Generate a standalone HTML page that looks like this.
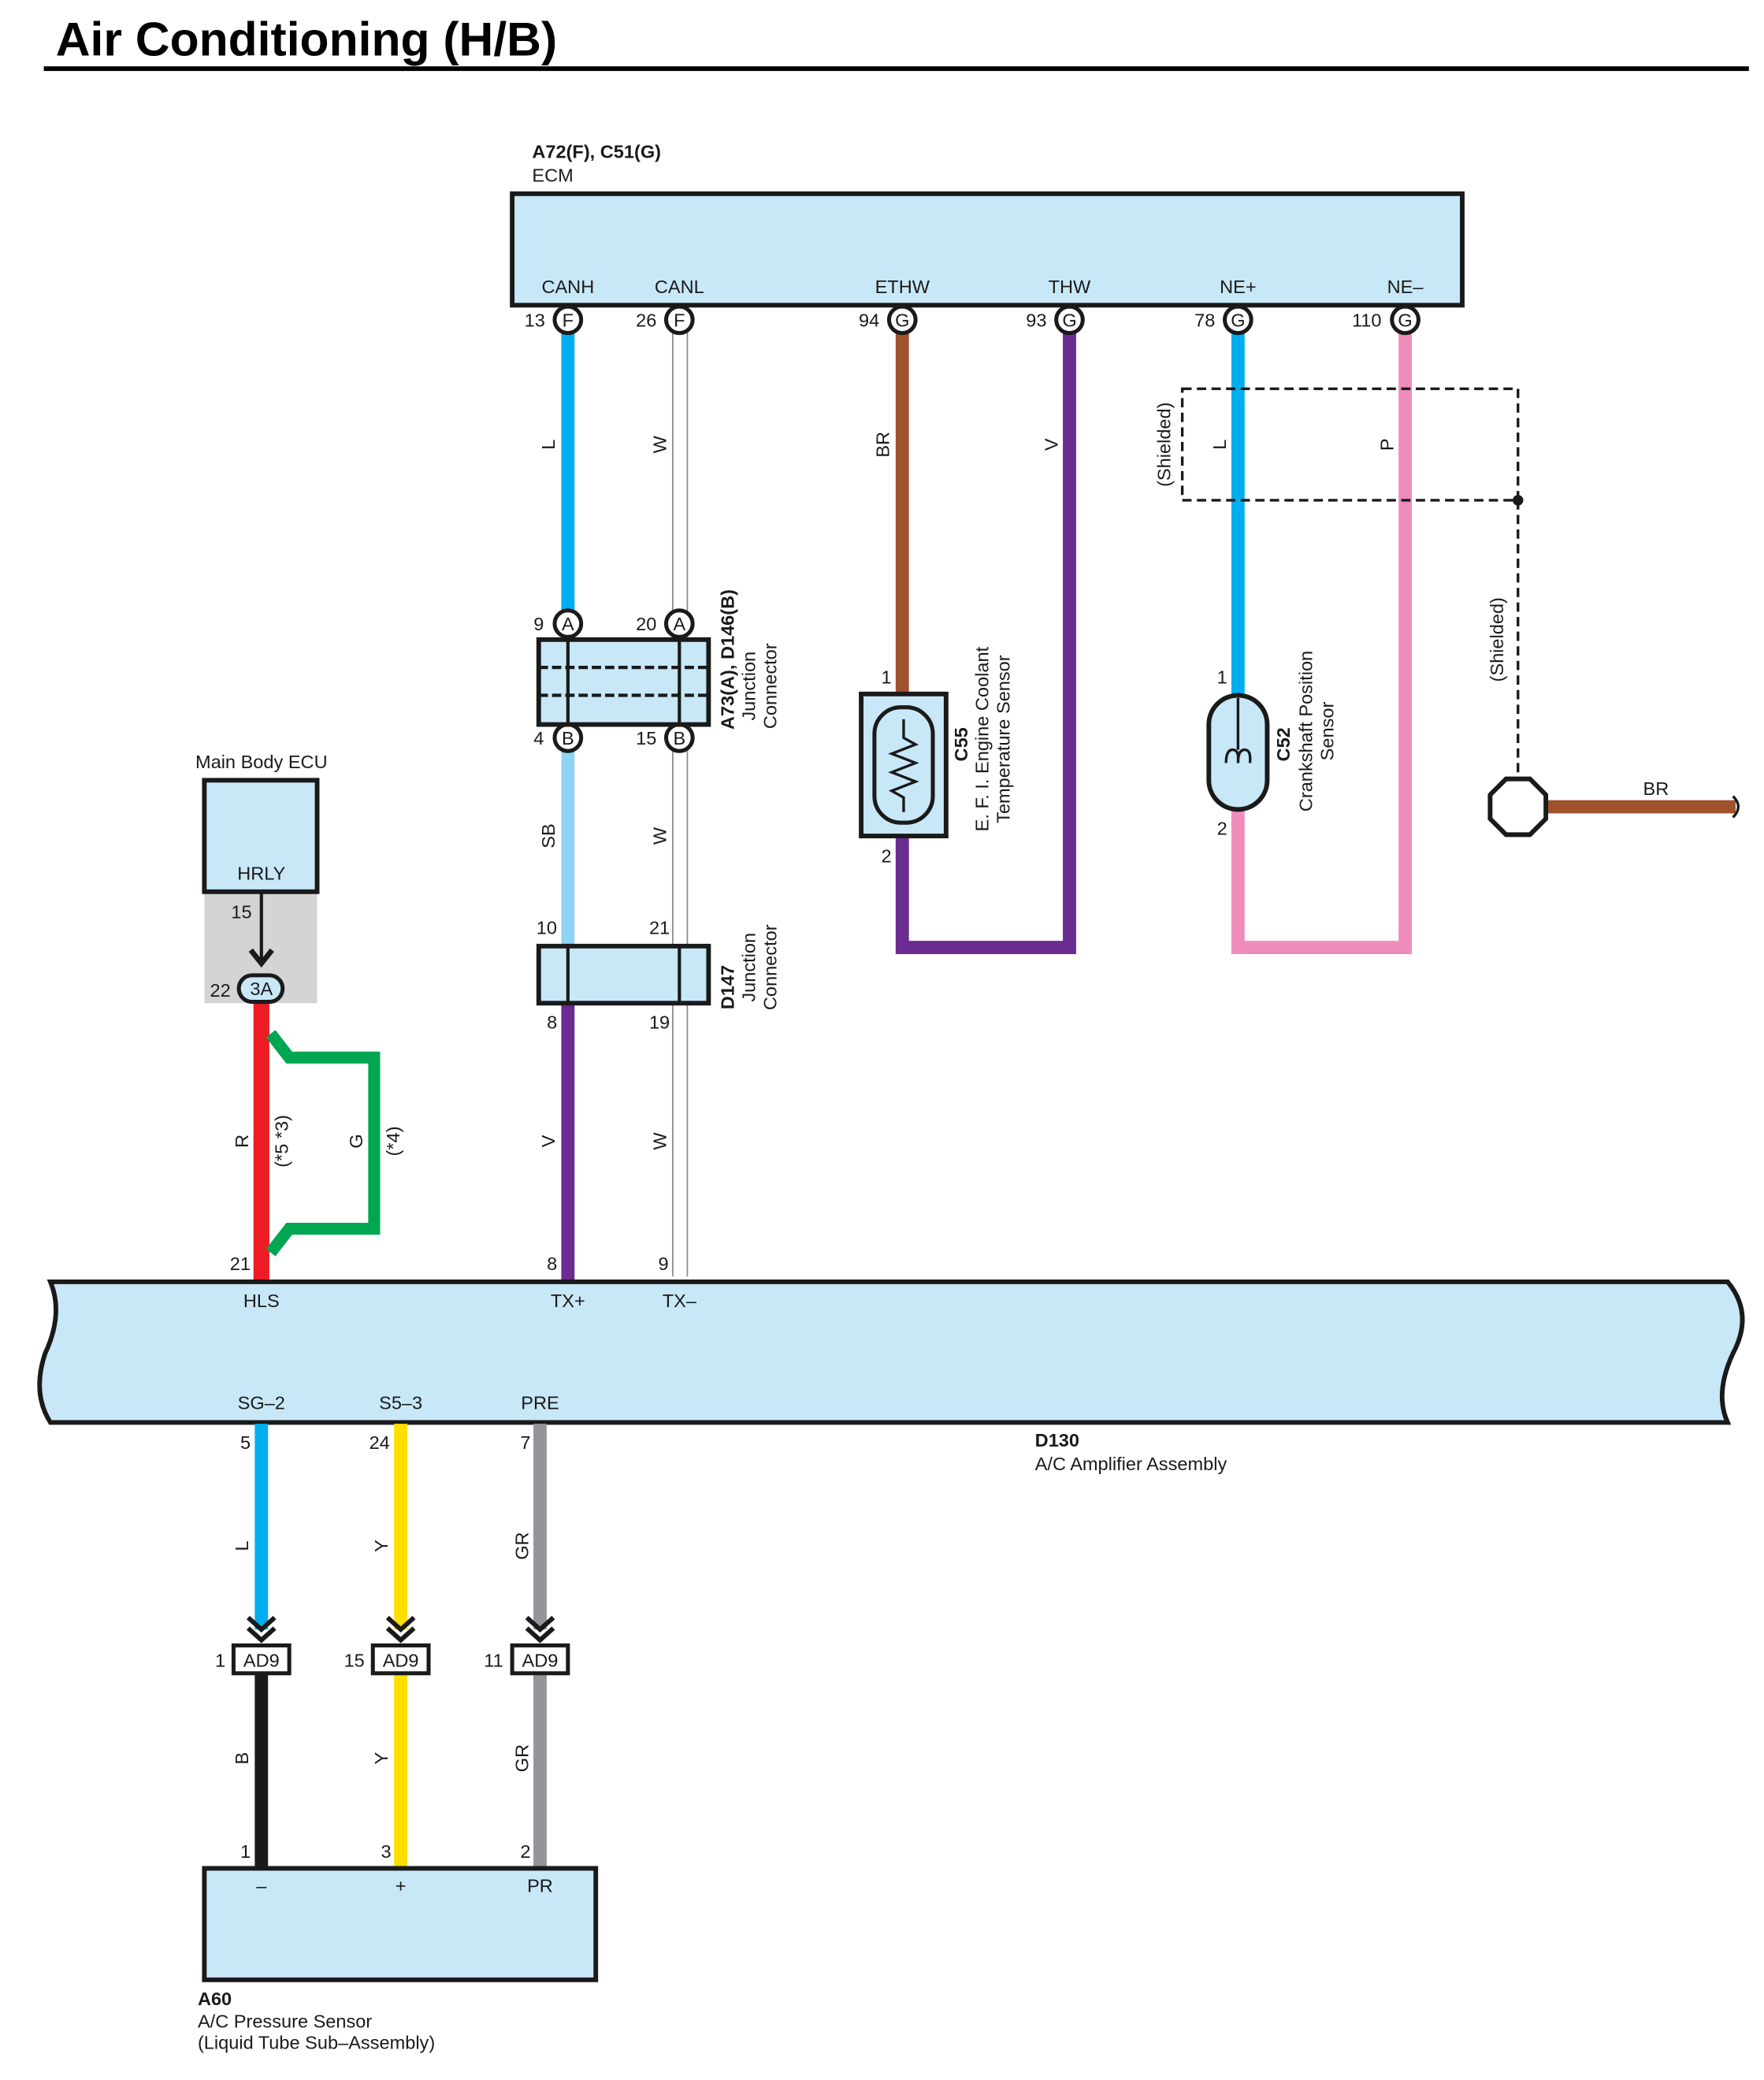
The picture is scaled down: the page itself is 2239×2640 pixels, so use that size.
<!DOCTYPE html>
<html><head><meta charset="utf-8"><style>
html,body{margin:0;padding:0;background:#fff}
svg{display:block}
text{font-family:"Liberation Sans",sans-serif;font-size:14px;fill:#1a1a1a}
.b{font-weight:bold}
.c{text-anchor:middle}
</style></head><body>
<svg width="2239" height="2640" viewBox="0 0 1329.4 1567.5" preserveAspectRatio="none" xmlns="http://www.w3.org/2000/svg">
<text x="42" y="42" class="b" style="font-size:36px;fill:#000">Air Conditioning (H/B)</text>
<rect x="33" y="50" width="1285" height="3.5" fill="#000"/>

<text x="401" y="119" class="b">A72(F), C51(G)</text>
<text x="401" y="137">ECM</text>
<rect x="386" y="146" width="716" height="84" fill="#c8e8f8" stroke="#1a1a1a" stroke-width="3.5"/>
<text x="428" y="221" class="c">CANH</text><text x="512" y="221" class="c">CANL</text>
<text x="680" y="221" class="c">ETHW</text><text x="806" y="221" class="c">THW</text>
<text x="933" y="221" class="c">NE+</text><text x="1059" y="221" class="c">NE–</text>

<line x1="428" y1="250" x2="428" y2="462" stroke="#00aeef" stroke-width="10"/>
<g stroke="#888" stroke-width="1"><line x1="507" y1="250" x2="507" y2="962"/><line x1="518" y1="250" x2="518" y2="962"/></g>
<line x1="680" y1="250" x2="680" y2="524" stroke="#a0522d" stroke-width="10"/>
<polyline points="806,250 806,714 680,714 680,630" fill="none" stroke="#6a2c91" stroke-width="10"/>
<line x1="933" y1="250" x2="933" y2="526" stroke="#00aeef" stroke-width="10"/>
<polyline points="1059,250 1059,714 933,714 933,610" fill="none" stroke="#f08cbc" stroke-width="10"/>
<line x1="428" y1="566" x2="428" y2="713" stroke="#8fd3f5" stroke-width="10"/>
<line x1="428" y1="756" x2="428" y2="965" stroke="#6a2c91" stroke-width="10"/>

<g stroke="#1a1a1a" stroke-width="3" fill="#fff">
<circle cx="428" cy="241" r="10"/><circle cx="512" cy="241" r="10"/><circle cx="680" cy="241" r="10"/>
<circle cx="806" cy="241" r="10"/><circle cx="933" cy="241" r="10"/><circle cx="1059" cy="241" r="10"/>
<circle cx="428" cy="470" r="10"/><circle cx="512" cy="470" r="10"/>
<circle cx="428" cy="556" r="10"/><circle cx="512" cy="556" r="10"/>
</g>
<g>
<text x="428" y="246" class="c">F</text><text x="512" y="246" class="c">F</text><text x="680" y="246" class="c">G</text>
<text x="806" y="246" class="c">G</text><text x="933" y="246" class="c">G</text><text x="1059" y="246" class="c">G</text>
<text x="428" y="475" class="c">A</text><text x="512" y="475" class="c">A</text>
<text x="428" y="561" class="c">B</text><text x="512" y="561" class="c">B</text>
<text x="403" y="246" class="c">13</text><text x="487" y="246" class="c">26</text><text x="655" y="246" class="c">94</text>
<text x="781" y="246" class="c">93</text><text x="908" y="246" class="c">78</text><text x="1030" y="246" class="c">110</text>
<text x="406" y="475" class="c">9</text><text x="487" y="475" class="c">20</text>
<text x="406" y="561" class="c">4</text><text x="487" y="561" class="c">15</text>
<text x="412" y="704" class="c">10</text><text x="497" y="704" class="c">21</text>
<text x="416" y="775" class="c">8</text><text x="497" y="775" class="c">19</text>
<text x="416" y="957" class="c">8</text><text x="500" y="957" class="c">9</text>
<text x="668" y="515" class="c">1</text><text x="668" y="650" class="c">2</text>
<text x="921" y="515" class="c">1</text><text x="921" y="629" class="c">2</text>
</g>

<g>
<text transform="translate(418,335) rotate(-90)" class="c">L</text>
<text transform="translate(502,335) rotate(-90)" class="c">W</text>
<text transform="translate(670,335) rotate(-90)" class="c">BR</text>
<text transform="translate(797,335) rotate(-90)" class="c">V</text>
<text transform="translate(882,335) rotate(-90)" class="c">(Shielded)</text>
<text transform="translate(924,335) rotate(-90)" class="c">L</text>
<text transform="translate(1050,335) rotate(-90)" class="c">P</text>
<text transform="translate(1133,482) rotate(-90)" class="c">(Shielded)</text>
<text transform="translate(418,630) rotate(-90)" class="c">SB</text>
<text transform="translate(502,630) rotate(-90)" class="c">W</text>
<text transform="translate(418,860) rotate(-90)" class="c">V</text>
<text transform="translate(502,860) rotate(-90)" class="c">W</text>
<text transform="translate(187,860) rotate(-90)" class="c">R</text>
<text transform="translate(217,860) rotate(-90)" class="c">(*5 *3)</text>
<text transform="translate(273,860) rotate(-90)" class="c">G</text>
<text transform="translate(301,860) rotate(-90)" class="c">(*4)</text>
<text transform="translate(187,1165) rotate(-90)" class="c">L</text>
<text transform="translate(292,1165) rotate(-90)" class="c">Y</text>
<text transform="translate(398,1165) rotate(-90)" class="c">GR</text>
<text transform="translate(187,1325) rotate(-90)" class="c">B</text>
<text transform="translate(292,1325) rotate(-90)" class="c">Y</text>
<text transform="translate(398,1325) rotate(-90)" class="c">GR</text>
</g>

<rect x="891" y="293" width="253" height="84" fill="none" stroke="#1a1a1a" stroke-width="2" stroke-dasharray="7,4"/>
<circle cx="1144" cy="377" r="4" fill="#1a1a1a"/>
<line x1="1144" y1="377" x2="1144" y2="588" stroke="#1a1a1a" stroke-width="2" stroke-dasharray="7,4"/>
<line x1="1166" y1="608" x2="1308" y2="608" stroke="#a0522d" stroke-width="10"/>
<path d="M1306,600 q8,8 0,16" fill="none" stroke="#1a1a1a" stroke-width="2"/>
<polygon points="1135,587 1153,587 1165,599 1165,617 1153,629 1135,629 1123,617 1123,599" fill="#fff" stroke="#1a1a1a" stroke-width="3.5"/>
<text x="1248" y="599" class="c">BR</text>

<rect x="406" y="482" width="128" height="64" fill="#c8e8f8" stroke="#1a1a1a" stroke-width="3.5"/>
<g stroke="#1a1a1a" stroke-width="2.5"><line x1="428" y1="482" x2="428" y2="546"/><line x1="512" y1="482" x2="512" y2="546"/></g>
<g stroke="#1a1a1a" stroke-width="2.5" stroke-dasharray="7,3"><line x1="406" y1="503" x2="534" y2="503"/><line x1="406" y1="524" x2="534" y2="524"/></g>
<text transform="translate(553,497) rotate(-90)" class="c b">A73(A), D146(B)</text>
<text transform="translate(569,517) rotate(-90)" class="c">Junction</text>
<text transform="translate(585,517) rotate(-90)" class="c">Connector</text>

<rect x="406" y="713" width="128" height="43" fill="#c8e8f8" stroke="#1a1a1a" stroke-width="3.5"/>
<g stroke="#1a1a1a" stroke-width="2.5"><line x1="428" y1="713" x2="428" y2="756"/><line x1="512" y1="713" x2="512" y2="756"/></g>
<text transform="translate(553,744) rotate(-90)" class="c b">D147</text>
<text transform="translate(569,729) rotate(-90)" class="c">Junction</text>
<text transform="translate(585,729) rotate(-90)" class="c">Connector</text>

<rect x="649" y="523" width="64" height="107" fill="#c8e8f8" stroke="#1a1a1a" stroke-width="3.5"/>
<rect x="659" y="533" width="44" height="87" rx="20" fill="#c8e8f8" stroke="#1a1a1a" stroke-width="3"/>
<polyline points="681,542 681,556 690,561 672,568 690,575 672,582 690,589 672,596 681,601 681,612" fill="none" stroke="#1a1a1a" stroke-width="2"/>
<text transform="translate(729,561) rotate(-90)" class="c b">C55</text>
<text transform="translate(745,557) rotate(-90)" class="c">E. F. I.  Engine Coolant</text>
<text transform="translate(761,557) rotate(-90)" class="c">Temperature Sensor</text>

<rect x="911" y="524" width="44" height="86" rx="22" fill="#c8e8f8" stroke="#1a1a1a" stroke-width="3.5"/>
<path d="M924,575 q0,-10 5,-10 q5,0 4,10 q0,-10 5,-10 q5,0 4,10" fill="none" stroke="#1a1a1a" stroke-width="2"/>
<line x1="933" y1="526" x2="933" y2="565" stroke="#1a1a1a" stroke-width="2"/>
<text transform="translate(972,561) rotate(-90)" class="c b">C52</text>
<text transform="translate(989,551) rotate(-90)" class="c">Crankshaft Position</text>
<text transform="translate(1005,551) rotate(-90)" class="c">Sensor</text>

<text x="197" y="579" class="c">Main Body ECU</text>
<rect x="154" y="672" width="85" height="84" fill="#d4d4d6"/>
<rect x="154" y="588" width="85" height="84" fill="#c8e8f8" stroke="#1a1a1a" stroke-width="3.5"/>
<text x="197" y="663" class="c">HRLY</text>
<text x="182" y="692" class="c">15</text>
<line x1="197" y1="672" x2="197" y2="725" stroke="#1a1a1a" stroke-width="2.5"/>
<polyline points="189,716 197,726 205,716" fill="none" stroke="#1a1a1a" stroke-width="4"/>
<line x1="197" y1="755" x2="197" y2="965" stroke="#ed1c24" stroke-width="12"/>
<polyline points="204,779 218,797 282,797 282,926 218,926 204,944" fill="none" stroke="#00a651" stroke-width="9"/>
<rect x="180" y="735" width="33" height="20" rx="10" fill="#c8e8f8" stroke="#1a1a1a" stroke-width="3"/>
<text x="197" y="750" class="c">3A</text>
<text x="166" y="751" class="c">22</text>
<text x="181" y="957" class="c">21</text>

<path d="M38,966 L1302,966 Q1322,990 1306,1020 Q1292,1050 1302,1072 L38,1072 Q24,1050 34,1020 Q48,990 38,966 Z" fill="#c8e8f8" stroke="#1a1a1a" stroke-width="3.5"/>
<text x="197" y="985" class="c">HLS</text><text x="428" y="985" class="c">TX+</text><text x="512" y="985" class="c">TX–</text>
<text x="197" y="1062" class="c">SG–2</text><text x="302" y="1062" class="c">S5–3</text><text x="407" y="1062" class="c">PRE</text>
<text x="780" y="1090" class="b">D130</text>
<text x="780" y="1108">A/C Amplifier Assembly</text>

<line x1="197" y1="1073" x2="197" y2="1228" stroke="#00aeef" stroke-width="10"/>
<line x1="302" y1="1073" x2="302" y2="1228" stroke="#ffde00" stroke-width="10"/>
<line x1="407" y1="1073" x2="407" y2="1228" stroke="#939598" stroke-width="10"/>
<line x1="197" y1="1262" x2="197" y2="1408" stroke="#1a1a1a" stroke-width="10"/>
<line x1="302" y1="1262" x2="302" y2="1408" stroke="#ffde00" stroke-width="10"/>
<line x1="407" y1="1262" x2="407" y2="1408" stroke="#939598" stroke-width="10"/>
<g fill="none" stroke="#1a1a1a" stroke-width="3.5">
<polyline points="187,1219 197,1228 207,1219"/><polyline points="187,1227 197,1236 207,1227"/>
<polyline points="292,1219 302,1228 312,1219"/><polyline points="292,1227 302,1236 312,1227"/>
<polyline points="397,1219 407,1228 417,1219"/><polyline points="397,1227 407,1236 417,1227"/>
</g>
<g fill="#fff" stroke="#1a1a1a" stroke-width="3">
<rect x="176" y="1240" width="42" height="21"/><rect x="281" y="1240" width="42" height="21"/><rect x="386" y="1240" width="42" height="21"/>
</g>
<text x="197" y="1256" class="c">AD9</text><text x="302" y="1256" class="c">AD9</text><text x="407" y="1256" class="c">AD9</text>
<text x="166" y="1256" class="c">1</text><text x="267" y="1256" class="c">15</text><text x="372" y="1256" class="c">11</text>
<text x="185" y="1092" class="c">5</text><text x="286" y="1092" class="c">24</text><text x="396" y="1092" class="c">7</text>
<text x="185" y="1400" class="c">1</text><text x="291" y="1400" class="c">3</text><text x="396" y="1400" class="c">2</text>

<rect x="154" y="1408" width="295" height="84" fill="#c8e8f8" stroke="#1a1a1a" stroke-width="3.5"/>
<text x="197" y="1426" class="c">–</text><text x="302" y="1426" class="c">+</text><text x="407" y="1426" class="c">PR</text>
<text x="149" y="1511" class="b">A60</text>
<text x="149" y="1528">A/C Pressure Sensor</text>
<text x="149" y="1544">(Liquid Tube Sub–Assembly)</text>
</svg>
</body></html>
